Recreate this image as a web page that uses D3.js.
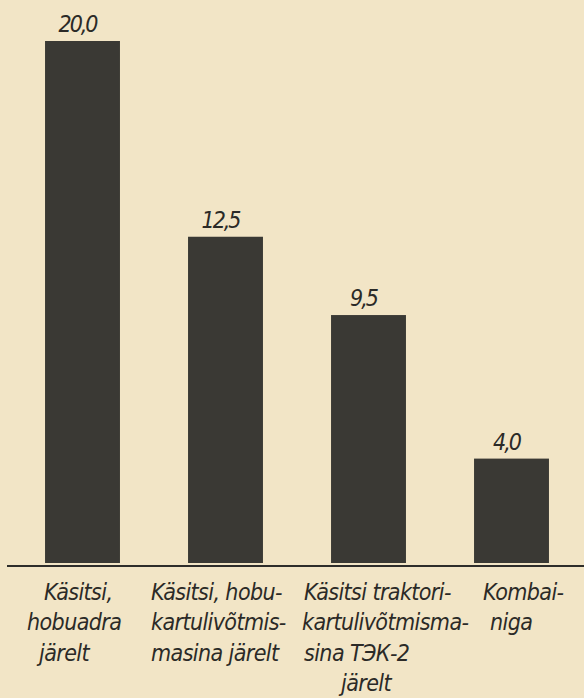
<!DOCTYPE html>
<meta charset="utf-8">
<style>
html, body {
  margin: 0;
  padding: 0;
  background: #f2e5c6;
}
svg {
  display: block;
}
.lbl {
  font-family: "DejaVu Sans Condensed", "DejaVu Sans", sans-serif;
  font-style: oblique;
  fill: #2b2a27;
}
</style>
<body>
<script src="https://d3js.org/d3.v7.min.js"></script>
<script>

// data
var methods = ["hand_horse_plough", "hand_horse_digger", "hand_tractor_digger", "combine"];
var values = [20.0, 12.5, 9.5, 4.0];
var valueLabels = ["20,0", "12,5", "9,5", "4,0"];
var categoryLines = [
  ["Käsitsi,", "hobuadra", "järelt"],
  ["Käsitsi, hobu-", "kartulivõtmis-", "masina järelt"],
  ["Käsitsi traktori-", "kartulivõtmisma-", "sina ТЭК-2", "järelt"],
  ["Kombai-", "niga"]
];

var width = 584,
    height = 698;

// where each label line starts, relative to the bar's left edge
var lineShift = [
  [-1, -18, -6],
  [-37, -37, -37],
  [-27, -29, -27, 10],
  [9, 16]
];

var svg = d3.select("body").append("svg")
    .attr("width", width)
    .attr("height", height);

var x = d3.scaleBand()
    .domain(methods)
    .range([11, 583])
    .paddingInner(0.476)
    .paddingOuter(0.238);

var y = d3.scaleLinear()
    .domain([0, 20])
    .range([563, 41]);

// bars
svg.append("g")
  .selectAll("rect")
    .data(values)
  .enter().append("rect")
    .attr("x", function(d, i) { return x(methods[i]); })
    .attr("y", function(d) { return y(d); })
    .attr("width", x.bandwidth())
    .attr("height", function(d) { return y(0) - y(d); })
    .style("fill", "#3a3934");

// value labels above the bars
svg.append("g")
  .selectAll("text")
    .data(values)
  .enter().append("text")
    .attr("class", "lbl")
    .attr("x", function(d, i) { return x(methods[i]) + x.bandwidth() / 2 - 5; })
    .attr("y", function(d) { return y(d) - 9; })
    .attr("text-anchor", "middle")
    .style("font-size", "23px")
    .style("letter-spacing", "-2px")
    .text(function(d, i) { return valueLabels[i]; });

// baseline
var axis = svg.append("g")
    .attr("transform", "translate(0,566)")
    .call(d3.axisBottom(x).tickSize(0).tickFormat(""));
axis.select(".domain")
    .attr("d", "M7,0H584")
    .style("stroke", "#2e2d2a")
    .style("stroke-width", 2);

// category labels, several lines each
var groups = svg.append("g")
  .selectAll("g")
    .data(categoryLines)
  .enter().append("g");

groups.selectAll("text")
    .data(function(d, i) { return d.map(function(t, j) { return {t: t, i: i, j: j}; }); })
  .enter().append("text")
    .attr("class", "lbl")
    .attr("x", function(d) { return x(methods[d.i]) + lineShift[d.i][d.j]; })
    .attr("y", function(d) { return 600 + d.j * 30.3; })
    .style("font-size", "23px")
    .style("letter-spacing", "-0.6px")
    .text(function(d) { return d.t; });

</script>
</body>
